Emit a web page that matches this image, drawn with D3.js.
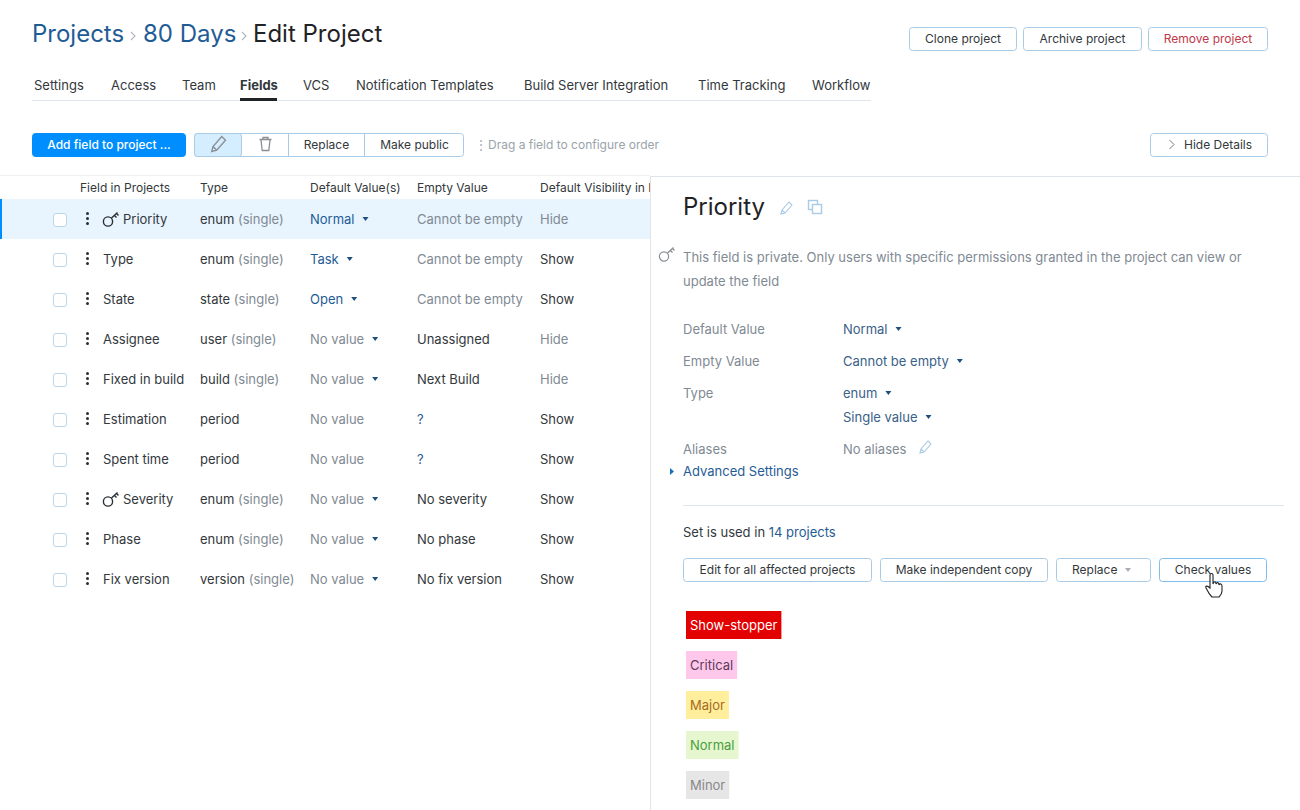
<!DOCTYPE html>
<html>
<head>
<meta charset="utf-8">
<script src="https://cdnjs.cloudflare.com/ajax/libs/d3/7.8.5/d3.min.js"></script>
<style>
html, body { margin: 0; padding: 0; background: #fff; overflow: hidden; }
svg { display: block; }
text { font-family: Inter, "Noto Sans", sans-serif; font-size: 13px; fill: #1f2326; }
</style>
</head>
<body>
<svg width="1300" height="810"></svg>
<script>
var tabs = ['Settings', 'Access', 'Team', 'Fields', 'VCS', 'Notification Templates', 'Build Server Integration', 'Time Tracking', 'Workflow'];
var tabX = [34, 111, 182, 240, 303, 356, 524, 698, 812];

var columns = ['Field in Projects', 'Type', 'Default Value(s)', 'Empty Value', 'Default Visibility in Issue'];
var columnX = [80, 200, 310, 417, 540];

var fieldNames = ['Priority', 'Type', 'State', 'Assignee', 'Fixed in build', 'Estimation', 'Spent time', 'Severity', 'Phase', 'Fix version'];
var fieldPrivate = [true, false, false, false, false, false, false, true, false, false];
var fieldTypes = ['enum', 'enum', 'state', 'user', 'build', 'period', 'period', 'enum', 'enum', 'version'];
var fieldNotes = ['(single)', '(single)', '(single)', '(single)', '(single)', '', '', '(single)', '(single)', '(single)'];
var defaults = ['Normal', 'Task', 'Open', 'No value', 'No value', 'No value', 'No value', 'No value', 'No value', 'No value'];
var defaultArrow = [true, true, true, true, true, false, false, true, true, true];
var empties = ['Cannot be empty', 'Cannot be empty', 'Cannot be empty', 'Unassigned', 'Next Build', '?', '?', 'No severity', 'No phase', 'No fix version'];
var visibility = ['Hide', 'Show', 'Show', 'Hide', 'Hide', 'Show', 'Show', 'Show', 'Show', 'Show'];

var detailLabels = ['Default Value', 'Empty Value', 'Type', '', 'Aliases'];
var detailValues = ['Normal', 'Cannot be empty', 'enum', 'Single value', 'No aliases'];
var detailY = [329, 361, 393, 417, 449];

var valueNames = ['Show-stopper', 'Critical', 'Major', 'Normal', 'Minor'];
var valueBg = ['#e30000', '#ffc8ea', '#ffee9c', '#e6f6cf', '#e6e6e6'];
var valueFg = ['#ffffff', '#5c3b5c', '#a86a1c', '#4a9e3f', '#888888'];

var linkBlue = '#1f5c96', grey = '#7f8a93', dark = '#33383c', border = '#a9cbe6';

var svg = d3.select('svg');

function label(parent, x, y, str, color, size, weight, anchor) {
    return parent.append('text')
        .attr('x', x)
        .attr('y', y)
        .attr('dy', '0.35em')
        .style('fill', color || dark)
        .style('font-size', (size || 13) + 'px')
        .style('font-weight', weight || 400)
        .style('text-anchor', anchor || 'start')
        .text(str);
}

function button(x, y, w, h, str, color, fill, stroke) {
    svg.append('rect')
        .attr('x', x + 0.5).attr('y', y + 0.5)
        .attr('width', w - 1).attr('height', h - 1)
        .attr('rx', 3)
        .style('fill', fill || '#fff')
        .style('stroke', stroke || border);
    if (str) label(svg, x + w / 2, y + h / 2, str, color, 12, 400, 'middle');
}

function arrow(x, y, color) {
    svg.append('path')
        .attr('d', d3.line()([[x, y - 2], [x + 6, y - 2], [x + 3, y + 2]]) + 'Z')
        .style('fill', color || '#1f4f7c');
}

function chevron(x, y) {
    svg.append('path')
        .attr('d', d3.line()([[x, y - 4], [x + 4, y], [x, y + 4]]))
        .style('fill', 'none')
        .style('stroke', '#b0b7bd')
        .style('stroke-width', 1.1);
}

function keyIcon(x, y, color, w) {
    var g = svg.append('g')
        .attr('transform', 'translate(' + x + ',' + y + ')')
        .style('fill', 'none')
        .style('stroke', color)
        .style('stroke-width', w || 1.6);
    g.append('circle').attr('cx', 5).attr('cy', 1.5).attr('r', 4.6);
    g.append('path').attr('d', 'M8.5 -2L14.5 -7.5M11.5 -4.5L13.5 -2.5M13.5 -6.5L15.5 -4.5');
}

function pencil(x, y, color, k, w) {
    svg.append('path')
        .attr('transform', 'translate(' + x + ',' + y + ') scale(' + (k || 1) + ')')
        .attr('d', 'M-5 6L-4 2L3 -6L6 -3L-1 5ZM-4 2L-1 5')
        .style('fill', 'none')
        .style('stroke', color)
        .style('stroke-width', w || 1.1);
}

// breadcrumb
label(svg, 32, 33.5, 'Projects', linkBlue, 24);
chevron(131, 36);
label(svg, 143, 33.5, '80 Days', linkBlue, 24);
chevron(242, 36);
label(svg, 253, 33.5, 'Edit Project', '#1f2326', 24);

// top buttons
button(909, 27, 108, 24, 'Clone project');
button(1023, 27, 119, 24, 'Archive project');
button(1148, 27, 120, 24, 'Remove project', '#c0394b');

// tabs
svg.selectAll('.tab')
    .data(tabs)
    .enter()
    .append('text')
    .attr('class', 'tab')
    .attr('x', function(d, i) { return tabX[i]; })
    .attr('y', 85)
    .attr('dy', '0.35em')
    .style('fill', dark)
    .style('font-weight', function(d) { return d === 'Fields' ? 700 : 400; })
    .text(function(d) { return d; });
svg.append('rect').attr('x', 32).attr('y', 100).attr('width', 839).attr('height', 1).style('fill', '#dfe5eb');
svg.append('rect').attr('x', 240).attr('y', 98).attr('width', 37).attr('height', 3).style('fill', '#1f2326');

// toolbar
button(32, 133, 154, 24, '', null, '#008eff', '#008eff');
label(svg, 109, 145, 'Add field to project ...', '#fff', 12, 500, 'middle');
button(194, 133, 270, 24);
svg.append('rect').attr('x', 194.5).attr('y', 133.5).attr('width', 47).attr('height', 23).attr('rx', 3).style('fill', '#d4edff').style('stroke', border);
svg.append('line').attr('x1', 288.5).attr('x2', 288.5).attr('y1', 133).attr('y2', 157).style('stroke', border);
svg.append('line').attr('x1', 364.5).attr('x2', 364.5).attr('y1', 133).attr('y2', 157).style('stroke', border);
pencil(218, 144, '#8a8f94', 1.25, 1.1);
svg.append('path')
    .attr('d', 'M259.5 139.5H271.5M263 139.5V137.5H268V139.5M261 140L262.2 150.5H268.8L270 140')
    .style('fill', 'none').style('stroke', '#8a8f94').style('stroke-width', 1.3);
label(svg, 326.5, 145, 'Replace', dark, 12, 400, 'middle');
label(svg, 414.5, 145, 'Make public', dark, 12, 400, 'middle');
label(svg, 475, 145, '⋮', '#a0a8ae', 12);
label(svg, 488, 145, 'Drag a field to configure order', '#9aa3aa', 12);

button(1150, 133, 118, 24);
svg.append('path').attr('d', 'M1169.5 140L1174 144.5L1169.5 149').style('fill', 'none').style('stroke', '#6f7a82');
label(svg, 1184, 145, 'Hide Details', dark, 12);

// table
var y = d3.scaleBand().domain(d3.range(fieldNames.length)).range([199, 599]);
var mid = function(i) { return y(i) + y.bandwidth() / 2; };

svg.append('rect').attr('x', 0).attr('y', 175).attr('width', 650).attr('height', 1).style('fill', '#eef1f4');
svg.selectAll('.col')
    .data(columns)
    .enter()
    .append('text')
    .attr('class', 'col')
    .attr('x', function(d, i) { return columnX[i]; })
    .attr('y', 187.5)
    .attr('dy', '0.35em')
    .style('font-size', '12px')
    .style('fill', dark)
    .text(function(d) { return d; });

svg.append('rect').attr('x', 0).attr('y', y(0)).attr('width', 650).attr('height', y.bandwidth()).style('fill', '#e8f4fe');
svg.append('rect').attr('x', 0).attr('y', y(0)).attr('width', 2).attr('height', y.bandwidth()).style('fill', '#008eff');

var row = svg.selectAll('.row')
    .data(fieldNames)
    .enter()
    .append('g')
    .attr('class', 'row');

row.append('rect')
    .attr('x', 53.5)
    .attr('y', function(d, i) { return mid(i) - 5.5; })
    .attr('width', 13)
    .attr('height', 13)
    .attr('rx', 2.5)
    .style('fill', '#fff')
    .style('stroke', '#bcd7ea');

fieldNames.forEach(function(name, i) {
    var m = mid(i);
    [-5, 0, 5].forEach(function(d) {
        svg.append('circle').attr('cx', 87.5).attr('cy', m + d - 0.5).attr('r', 1.5).style('fill', '#2a2f33');
    });
    if (fieldPrivate[i]) keyIcon(103, m + 1, '#2a2f33', 1.4);
    label(svg, fieldPrivate[i] ? 123 : 103, m, name, dark);

    var t = label(svg, 200, m, fieldTypes[i], dark);
    if (fieldNotes[i]) {
        t.append('tspan').style('fill', grey).text(' ' + fieldNotes[i]);
    }

    var isValue = defaults[i] !== 'No value';
    var dv = label(svg, 310, m, defaults[i], isValue ? linkBlue : grey);
    if (defaultArrow[i]) {
        arrow(310 + dv.node().getComputedTextLength() + 8, m);
    }

    label(svg, 417, m, empties[i], empties[i] === 'Cannot be empty' ? grey : (empties[i] === '?' ? linkBlue : dark));
    label(svg, 540, m, visibility[i], visibility[i] === 'Hide' ? grey : dark);
});

// details panel
svg.append('rect').attr('x', 650.5).attr('y', 176.5).attr('width', 660).attr('height', 650).style('fill', '#fff').style('stroke', '#dfe5eb');

label(svg, 683, 207, 'Priority', '#1f2326', 24);
pencil(786, 208, '#a9cbe6');
svg.append('rect').attr('x', 808.5).attr('y', 200.5).attr('width', 9).attr('height', 9).style('fill', 'none').style('stroke', '#a9cbe6').style('stroke-width', 1.4);
svg.append('rect').attr('x', 812.5).attr('y', 204.5).attr('width', 9).attr('height', 9).style('fill', '#fff').style('stroke', '#a9cbe6').style('stroke-width', 1.4);

keyIcon(659, 255, '#8a8f94', 1.2);
label(svg, 683, 257, 'This field is private. Only users with specific permissions granted in the project can view or', grey);
label(svg, 683, 281, 'update the field', grey);

detailLabels.forEach(function(d, i) {
    if (d) label(svg, 683, detailY[i], d, grey);
    var v = label(svg, 843, detailY[i], detailValues[i], i === 4 ? grey : '#3a6188');
    if (i < 4) arrow(843 + v.node().getComputedTextLength() + 8, detailY[i]);
});
pencil(925, 447, '#a9cbe6');

svg.append('path').attr('d', 'M670 468L674 471.5L670 475Z').style('fill', '#1a6fb5');
label(svg, 683, 471, 'Advanced Settings', linkBlue);

svg.append('rect').attr('x', 683).attr('y', 505).attr('width', 601).attr('height', 1).style('fill', '#dfe5eb');

var used = label(svg, 683, 532, 'Set is used in ', dark);
used.append('tspan').style('fill', linkBlue).text('14 projects');

button(683, 558, 189, 24, 'Edit for all affected projects');
button(880, 558, 168, 24, 'Make independent copy');
button(1056, 558, 95, 24);
label(svg, 1072, 570, 'Replace', dark, 12);
arrow(1125, 570, '#a9b0b6');
button(1159, 558, 108, 24, 'Check values', dark, '#fff', '#7fbdea');

// hand cursor
svg.append('path')
    .attr('d', 'M1210 575C1210 573 1213 573 1213 575V584C1214 581 1216 581 1216 584C1217 582 1219 582 1219 585C1220 583 1222 584 1222 586V591C1222 594 1220 596 1219 597H1212C1210 595 1207 590 1206 588C1205 586 1207 585 1210 588Z')
    .style('fill', '#fff')
    .style('stroke', '#1f2326')
    .style('stroke-width', 1.1);

// value tags
var tagY = d3.scaleBand().domain(d3.range(valueNames.length)).range([605, 805]);
var tag = svg.selectAll('.tag')
    .data(valueNames)
    .enter()
    .append('g')
    .attr('class', 'tag');

tag.append('text')
    .attr('x', 690)
    .attr('y', function(d, i) { return tagY(i) + 20; })
    .attr('dy', '0.35em')
    .style('fill', function(d, i) { return valueFg[i]; })
    .text(function(d) { return d; });

tag.insert('rect', 'text')
    .attr('x', 686)
    .attr('y', function(d, i) { return tagY(i) + 6; })
    .attr('width', function() { return this.parentNode.querySelector('text').getComputedTextLength() + 8; })
    .attr('height', 28)
    .style('fill', function(d, i) { return valueBg[i]; });
</script>
</body>
</html>
